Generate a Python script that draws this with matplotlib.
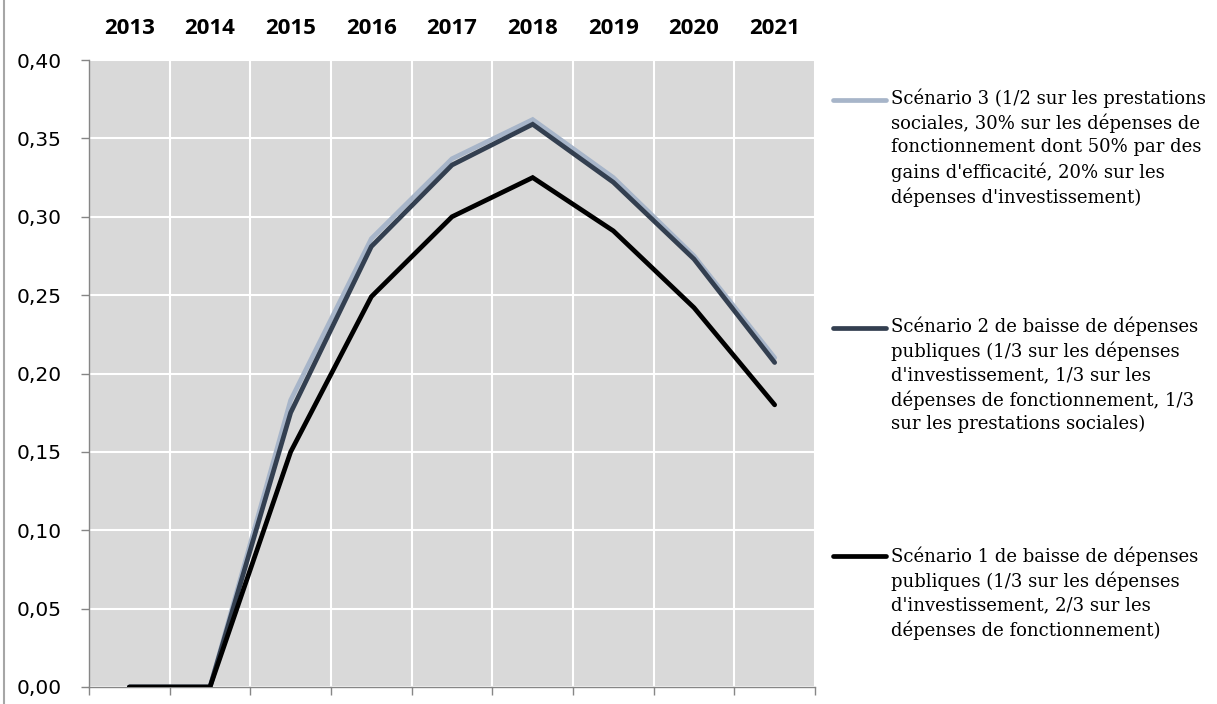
import matplotlib
matplotlib.use("Agg")
import matplotlib.pyplot as plt
import matplotlib.transforms as mtransforms
from matplotlib.lines import Line2D
import numpy as np

years = ["2013", "2014", "2015", "2016", "2017", "2018", "2019", "2020", "2021"]
scenario3 = [0.0, 0.0, 0.183, 0.286, 0.337, 0.362, 0.325, 0.275, 0.210]
scenario2 = [0.0, 0.0, 0.175, 0.281, 0.333, 0.359, 0.322, 0.273, 0.207]
scenario1 = [0.0, 0.0, 0.150, 0.249, 0.300, 0.325, 0.291, 0.242, 0.180]
labels = [
    "Scénario 3 (1/2 sur les prestations\nsociales, 30% sur les dépenses de\nfonctionnement dont 50% par des\ngains d'efficacité, 20% sur les\ndépenses d'investissement)",
    "Scénario 2 de baisse de dépenses\npubliques (1/3 sur les dépenses\nd'investissement, 1/3 sur les\ndépenses de fonctionnement, 1/3\nsur les prestations sociales)",
    "Scénario 1 de baisse de dépenses\npubliques (1/3 sur les dépenses\nd'investissement, 2/3 sur les\ndépenses de fonctionnement)",
]
yticks = [0.0, 0.05, 0.10, 0.15, 0.20, 0.25, 0.30, 0.35, 0.40]

colors = ["#a7b5c9", "#333f50", "#000000"]
series = [scenario3, scenario2, scenario1]

W, H = 1217, 704
fig = plt.figure(figsize=(W / 100, H / 100), dpi=100)
fig.patch.set_facecolor("white")
ax = fig.add_axes([89 / W, (H - 687) / H, (815 - 89) / W, (687 - 60) / H])
ax.set_facecolor("#d9d9d9")

x = np.arange(len(years))
for s, c in zip(series, colors):
    ax.plot(x, s, color=c, lw=3.4, solid_capstyle="round", solid_joinstyle="miter", zorder=3)

ax.set_xlim(-0.5, len(years) - 0.5)
ax.set_ylim(0, 0.40)

ax.set_yticks(yticks)
ax.set_yticklabels([f"{v:.2f}".replace(".", ",") for v in yticks],
                   fontfamily="DejaVu Sans", fontsize=14.5)
ax.set_xticks(np.arange(len(years) + 1) - 0.5)
ax.set_xticklabels([])
ax.grid(True, color="white", lw=1.5, zorder=1)
ax.set_axisbelow(True)
ax.tick_params(axis="y", length=6, width=1, color="#868686", pad=13.7)
ax.tick_params(axis="x", length=6, width=1, color="#868686", direction="out")

for sp in ["top", "right"]:
    ax.spines[sp].set_visible(False)
for sp in ["left", "bottom"]:
    ax.spines[sp].set_color("#868686")
    ax.spines[sp].set_linewidth(1)

# year labels on top
trans = mtransforms.blended_transform_factory(ax.transData, ax.transAxes)
for i, yr in enumerate(years):
    ax.text(i, (687 - 29) / 627, yr, transform=trans, ha="center", va="center",
            fontfamily="Open Sans", fontweight="bold", fontsize=16)

# chart frame left border
fig.add_artist(Line2D([3.5 / W, 3.5 / W], [0, 1], color="#a6a6a6", lw=1.5))

# legend (manual)
handle_y = [100, 328, 556]
text_top = [88, 316, 546]
for lab, c, hy, ty in zip(labels, colors, handle_y, text_top):
    fig.add_artist(Line2D([833 / W, 886 / W], [1 - hy / H, 1 - hy / H], color=c, lw=3.4,
                          solid_capstyle="round"))
    fig.text(891 / W, 1 - ty / H, lab, ha="left", va="top", fontfamily="DejaVu Serif",
             fontsize=13, linespacing=1.38)

fig.savefig("out.png", dpi=100)
